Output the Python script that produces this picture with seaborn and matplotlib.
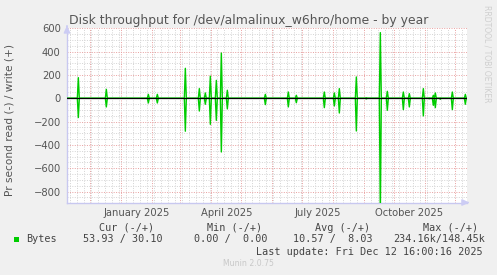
import numpy as np
import pandas as pd
import matplotlib
matplotlib.use("Agg")
import matplotlib.pyplot as plt
import matplotlib.dates as mdates
from matplotlib.patches import Rectangle
import seaborn as sns

# ---------------- data ----------------
spike_dates = ["2024-11-19", "2024-12-17", "2025-01-28", "2025-02-06", "2025-03-06",
               "2025-03-20", "2025-03-26", "2025-03-31", "2025-04-06", "2025-04-11",
               "2025-04-17", "2025-05-25", "2025-06-17", "2025-06-25", "2025-07-23",
               "2025-08-02", "2025-08-07", "2025-08-24", "2025-09-03", "2025-09-17",
               "2025-09-24", "2025-10-10", "2025-10-16", "2025-10-30", "2025-11-05",
               "2025-11-09", "2025-11-11", "2025-11-16", "2025-11-28", "2025-12-11"]
write_bytes = [177, 77, 34, 34, 257, 83, 46, 190, 154, 388, 69, 34, 54, 26, 54,
               46, 83, 183, 5, 563, 60, 54, 40, 83, 3, 26, 46, 3, 54, 34]
read_bytes = [165, 74, 40, 40, 282, 109, 51, 223, 189, 460, 91, 54, 74, 38, 80,
              66, 126, 280, 5, 1000, 103, 97, 74, 151, 3, 60, 80, 8, 97, 51]

x_labels = ["January 2025", "April 2025", "July 2025", "October 2025"]
x_label_dates = ["2025-01-16", "2025-04-16", "2025-07-16", "2025-10-16"]

legend_name = "Bytes"
legend_headers = ["Cur (-/+)", "Min (-/+)", "Avg (-/+)", "Max (-/+)"]
legend_values = ["53.93 / 30.10", "0.00 /  0.00", "10.57 /  8.03", "234.16k/148.45k"]
title = "Disk throughput for /dev/almalinux_w6hro/home - by year"
ylabel = "Pr second read (-) / write (+)"
last_update = "Last update: Fri Dec 12 16:00:16 2025"
footer = "Munin 2.0.75"
watermark = "RRDTOOL / TOBI OETIKER"

t_start = pd.Timestamp("2024-11-07 16:00")
t_end = pd.Timestamp("2025-12-12 16:00")

# daily series, zero except spike days
days = pd.date_range("2024-11-08", "2025-12-12", freq="D")
w = pd.Series(0.0, index=days)
r = pd.Series(0.0, index=days)
w.loc[pd.to_datetime(spike_dates)] = write_bytes
r.loc[pd.to_datetime(spike_dates)] = read_bytes
df = pd.DataFrame({"date": days, "write": w.values, "read": -r.values})

# ---------------- style ----------------
sns.set_theme(style="white")
plt.rcParams["font.family"] = ["DejaVu Sans"]

W, H = 497, 275
fig = plt.figure(figsize=(W / 100, H / 100), dpi=100, facecolor="#F0F0F0")
L, R, T, B = 67, 467, 28.3, 202.5
ax = fig.add_axes([L / W, 1 - B / H, (R - L) / W, (B - T) / H])
ax.set_facecolor("#FFFFFF")

green = "#00CC00"
sns.lineplot(data=df, x="date", y="write", ax=ax, color=green, linewidth=1.0, zorder=3)
sns.lineplot(data=df, x="date", y="read", ax=ax, color=green, linewidth=1.0, zorder=3)
ax.axhline(0, color="#000000", linewidth=0.9, zorder=4)

ax.set_xlim(t_start, t_end)
ax.set_ylim(-893, 600)

# grids
ax.xaxis.set_major_locator(mdates.MonthLocator())
ax.xaxis.set_minor_locator(mdates.WeekdayLocator(byweekday=mdates.MO))
ax.xaxis.set_major_formatter(plt.NullFormatter())
ax.yaxis.set_major_locator(plt.MultipleLocator(200))
ax.yaxis.set_minor_locator(plt.MultipleLocator(50))

major_c = "#E8A0A0"
minor_c = "#D4D4D4"
ax.grid(True, which="minor", color=minor_c, linestyle=(0, (1, 1.5)), linewidth=0.7, zorder=1)
ax.grid(True, which="major", color=major_c, linestyle=(0, (1, 1.5)), linewidth=0.7, zorder=2)
ax.set_axisbelow(True)

ax.tick_params(axis="x", which="major", length=3, width=0.7, color=major_c, direction="out", labelbottom=False)
ax.tick_params(axis="x", which="minor", length=2, width=0.7, color=minor_c, direction="out")
ax.tick_params(axis="y", which="major", length=3, width=0.7, color="#AAAAAA", direction="out",
               labelsize=7.2, labelcolor="#555555", pad=1.5)
ax.tick_params(axis="y", which="minor", length=2, width=0.7, color="#CCCCCC", direction="out")

for s in ["top", "right"]:
    ax.spines[s].set_visible(False)
for s in ["left", "bottom"]:
    ax.spines[s].set_color("#C8C8F0")
    ax.spines[s].set_linewidth(1.0)

# axis arrows
arrow_c = "#CCCCF4"
ax.annotate("", xy=(1.013, 0), xytext=(0.995, 0), xycoords="axes fraction",
            arrowprops=dict(arrowstyle="-|>,head_length=0.35,head_width=0.16", color=arrow_c, lw=1.0),
            annotation_clip=False)
ax.annotate("", xy=(0, 1.032), xytext=(0, 0.995), xycoords="axes fraction",
            arrowprops=dict(arrowstyle="-|>,head_length=0.35,head_width=0.16", color=arrow_c, lw=1.0),
            annotation_clip=False)

# x labels at mid-month
trans = matplotlib.transforms.blended_transform_factory(ax.transData, fig.transFigure)
for lab, d in zip(x_labels, x_label_dates):
    ax.text(mdates.date2num(pd.Timestamp(d)), 1 - 212.5 / H, lab, transform=trans,
            ha="center", va="center", fontsize=7.2, color="#555555")

ax.set_xlabel("")
ax.set_ylabel("")
fig.text(10 / W, 1 - 120 / H, ylabel, rotation=90, ha="center", va="center",
         fontsize=7.6, color="#555555")

fig.text(249 / W, 1 - 24 / H, title, ha="center", va="baseline", fontsize=8.9, color="#555555")

fig.text(487 / W, 1 - 5 / H, watermark, rotation=270, ha="center", va="top",
         fontsize=5.5, color="#CFCFCF")

# legend block
mono = "DejaVu Sans Mono"
fs = 7.25
tc = "#444444"
for txt, x in zip(legend_headers, [98.7, 206.7, 315, 422.7]):
    fig.text(x / W, 1 - 227.7 / H, txt, ha="left", va="center", family=mono, fontsize=fs, color=tc)
fig.patches.append(Rectangle((14 / W, 1 - 242 / H), 5.3 / W, 5.3 / H, transform=fig.transFigure,
                             facecolor=green, edgecolor="none"))
fig.text(26 / W, 1 - 239.3 / H, legend_name, ha="left", va="center", family=mono, fontsize=fs, color=tc)
for txt, x in zip(legend_values, [82.7, 194, 293.3, 392.7]):
    fig.text(x / W, 1 - 239.3 / H, txt, ha="left", va="center", family=mono, fontsize=fs, color=tc)
fig.text(483 / W, 1 - 251.7 / H, last_update, ha="right", va="center", family=mono, fontsize=fs, color=tc)
fig.text(248 / W, 1 - 264 / H, footer, ha="center", va="center", fontsize=5.6, color="#C8C8C8")

fig.savefig("out.png", dpi=100, facecolor=fig.get_facecolor())
